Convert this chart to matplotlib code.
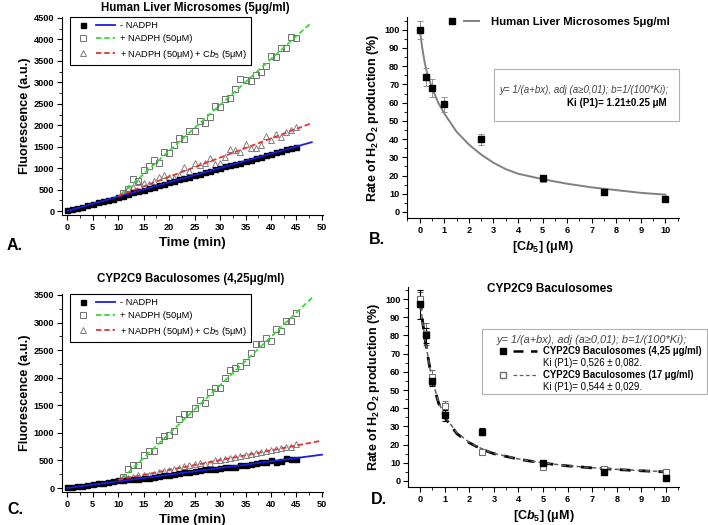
import matplotlib
matplotlib.use('Agg')
import matplotlib.pyplot as plt
from matplotlib.lines import Line2D
from matplotlib.patches import Rectangle
from matplotlib.legend_handler import HandlerTuple
from matplotlib.ticker import MultipleLocator

plt.rcParams['font.family'] = ['Liberation Sans', 'DejaVu Sans']
plt.rcParams['mathtext.fontset'] = 'custom'
plt.rcParams['mathtext.rm'] = 'Liberation Sans'
plt.rcParams['mathtext.it'] = 'Liberation Sans:italic'
plt.rcParams['mathtext.bf'] = 'Liberation Sans:bold'
plt.rcParams['mathtext.bfit'] = 'Liberation Sans:italic:bold'

# ---- panel A: Human liver microsomes, fluorescence vs time
minutes = list(range(46))
late_minutes = list(range(11, 46))
a_minus_nadph = [30, 50, 70, 100, 130, 160, 200, 230, 260, 290, 330, 360, 400, 440, 470, 500,
                 530, 570, 600, 640, 670, 700, 740, 770, 800, 830, 870, 900, 930, 970, 1000,
                 1040, 1070, 1100, 1130, 1170, 1200, 1230, 1270, 1300, 1340, 1370, 1400, 1440,
                 1470, 1500]
a_nadph = [420, 520, 750, 710, 950, 1050, 1180, 1120, 1380, 1350, 1550, 1700, 1680, 1870,
           1860, 2100, 2050, 2200, 2440, 2420, 2620, 2640, 2850, 3080, 3050, 3040, 3180, 3240,
           3380, 3620, 3600, 3800, 3810, 4050, 4030]
a_nadph_cb5 = [430, 540, 560, 680, 650, 620, 700, 800, 840, 800, 780, 850, 1030, 940, 1120,
               1080, 1130, 1240, 1100, 1110, 1270, 1450, 1420, 1380, 1570, 1480, 1480, 1530,
               1740, 1650, 1800, 1720, 1850, 1900, 1970]
a_fit_minus_x, a_fit_minus_y = [0, 48], [0, 1605]
a_fit_nadph_x, a_fit_nadph_y = [10.5, 48], [380, 4400]
a_fit_cb5_x, a_fit_cb5_y = [10, 48], [350, 2050]

# ---- panel C: CYP2C9 baculosomes, fluorescence vs time
c_minus_nadph = [10, 20, 30, 40, 55, 70, 90, 100, 115, 125, 140, 150, 155, 160, 170, 180, 190,
                 200, 220, 230, 240, 260, 270, 290, 290, 300, 330, 340, 350, 350, 360, 380, 390,
                 390, 420, 420, 430, 450, 480, 480, 500, 480, 490, 540, 530, 530]
c_nadph = [200, 340, 420, 420, 600, 680, 680, 870, 950, 960, 1040, 1260, 1340, 1340, 1460,
           1600, 1540, 1740, 1820, 1810, 2000, 2140, 2170, 2210, 2280, 2450, 2620, 2620, 2720,
           2660, 2880, 2840, 3020, 3030, 3170]
c_nadph_cb5 = [200, 190, 200, 230, 230, 240, 260, 290, 310, 330, 340, 370, 400, 410, 430, 460,
               440, 450, 500, 510, 520, 540, 560, 580, 600, 610, 640, 650, 680, 690, 700, 720,
               740, 750, 790]
c_fit_minus_x, c_fit_minus_y = [0, 50], [0, 605]
c_fit_nadph_x, c_fit_nadph_y = [10.7, 48.4], [165, 3480]
c_fit_cb5_x, c_fit_cb5_y = [10, 50], [150, 860]

# ---- panels B and D: rate vs [Cb5]
cb5 = [0, 0.25, 0.5, 1, 2.5, 5, 7.5, 10]
b_rate = [100, 74, 68, 59, 40, 18.5, 11, 7]
b_err = [5, 5, 5, 4, 3, 2, 1, 1]
b_fit_x = [0, 0.1, 0.2, 0.3, 0.5, 0.75, 1, 1.5, 2, 2.5, 3, 3.5, 4, 5, 6, 7, 8, 9, 10]
b_fit_y = [100, 90, 82, 76, 68, 60, 54, 44, 37, 31.5, 27, 23.5, 21, 18, 15.5, 13.5, 12, 10.5, 9.5]

d_rate_425 = [97, 80, 55, 36, 27, 10, 5, 1.5]
d_err_425 = [8, 4, 3, 3, 2, 1, 1, 1]
d_rate_17 = [100, 81, 57, 41, 16, 7.5, 6.5, 5]
d_err_17 = [4, 6, 4, 3, 1, 1, 1, 1]
d_fit_x = [0, 0.1, 0.2, 0.25, 0.3, 0.4, 0.5, 0.75, 1, 1.5, 2, 2.5, 3, 4, 5, 6, 7, 8, 9, 10]
d_fit_425 = [100, 88, 78, 74, 70, 62, 55, 43, 35, 26, 21, 17.5, 15, 12, 9.8, 8.3, 7.2, 6.3, 5.6, 5.0]
d_fit_17 = [100, 88, 78, 74, 70, 62, 55.5, 43.5, 35.5, 26.5, 21.3, 17.8, 15.2, 12.1, 9.9, 8.4, 7.3, 6.4, 5.7, 5.1]

W, H = 708, 525
fig = plt.figure(figsize=(W / 100, H / 100), dpi=100)


def px_axes(l, t, r, b):
    return fig.add_axes([l / W, 1 - b / H, (r - l) / W, (b - t) / H])


def ftext(x, y, s, **kw):
    fig.text(x / W, 1 - y / H, s, **kw)


def style(ax):
    for s in ('top', 'right'):
        ax.spines[s].set_visible(False)
    ax.tick_params(which='major', direction='out', length=3.5, width=0.8, labelsize=6.6, pad=2)
    ax.tick_params(which='minor', direction='out', length=2, width=0.6)
    for lab in ax.get_xticklabels() + ax.get_yticklabels():
        lab.set_fontweight('bold')


blue, green, red = '#1c1ce6', '#33dd33', '#e53333'
msq = dict(marker='s', ms=3.6, ls='none')
nadph_label = '+ NADPH (50μM)'
cb5_label = '+ NADPH (50μM) + C$\\mathit{b}_5$ (5μM)'


def kinetics(ax, black, nadph, cb5v, fits, ymax, ystep, yminor):
    (fmx, fmy), (fnx, fny), (fcx, fcy) = fits
    ax.plot(late_minutes, cb5v, marker='^', ms=5, mfc='none', mec='#808080', mew=0.7, ls='none')
    ax.plot(late_minutes, nadph, marker='s', ms=5, mfc='none', mec='#707070', mew=0.7, ls='none')
    ax.plot(minutes, black, color='black', **msq)
    l1, = ax.plot(fmx, fmy, color=blue, lw=1.3)
    l2, = ax.plot(fnx, fny, color=green, lw=1.3, ls=(0, (3, 1.6)))
    l3, = ax.plot(fcx, fcy, color=red, lw=1.3, ls=(0, (3, 1.6)))
    ax.set_xlim(-1, 50.2)
    ax.set_ylim(-0.0205 * ymax, ymax * 1.005)
    ax.xaxis.set_major_locator(MultipleLocator(5))
    ax.xaxis.set_minor_locator(MultipleLocator(2.5))
    ax.yaxis.set_major_locator(MultipleLocator(ystep))
    ax.yaxis.set_minor_locator(MultipleLocator(yminor))
    style(ax)
    ax.set_xlabel('Time (min)', fontsize=9.5, fontweight='bold', labelpad=4)
    ax.set_ylabel('Fluorescence (a.u.)', fontsize=9.2, fontweight='bold', labelpad=2)
    h1 = Line2D([], [], color='black', **msq)
    h2 = Line2D([], [], marker='s', ms=4.5, mfc='none', mec='#707070', mew=0.7, ls='none')
    h3 = Line2D([], [], marker='^', ms=5, mfc='none', mec='#808080', mew=0.7, ls='none')
    leg = ax.legend([(h1, l1), (h2, l2), (h3, l3)], ['- NADPH', nadph_label, cb5_label],
                    handler_map={tuple: HandlerTuple(ndivide=None, pad=0.4)},
                    loc='upper left', bbox_to_anchor=(0.03, 1.0), borderaxespad=0,
                    fontsize=6.7, handlelength=4.4, handletextpad=0.5, labelspacing=0.45,
                    fancybox=False, edgecolor='black', framealpha=1, borderpad=0.45)
    leg.get_frame().set_linewidth(0.8)


axA = px_axes(62, 17, 323, 215)
kinetics(axA, a_minus_nadph, a_nadph, a_nadph_cb5,
         [(a_fit_minus_x, a_fit_minus_y), (a_fit_nadph_x, a_fit_nadph_y), (a_fit_cb5_x, a_fit_cb5_y)],
         4500, 500, 250)
ftext(195, 8, 'Human Liver Microsomes (5μg/ml)', fontsize=8.3, fontweight='bold',
      ha='center', va='center')

axC = px_axes(62, 294, 323, 492)
kinetics(axC, c_minus_nadph, c_nadph, c_nadph_cb5,
         [(c_fit_minus_x, c_fit_minus_y), (c_fit_nadph_x, c_fit_nadph_y), (c_fit_cb5_x, c_fit_cb5_y)],
         3500, 500, 250)
ftext(191, 279, 'CYP2C9 Baculosomes (4,25μg/ml)', fontsize=8.3, fontweight='bold',
      ha='center', va='center')


def rate_axes(ax):
    ax.set_xlim(-0.52, 10.55)
    ax.set_ylim(-3.3, 107)
    ax.xaxis.set_major_locator(MultipleLocator(1))
    ax.xaxis.set_minor_locator(MultipleLocator(0.5))
    ax.yaxis.set_major_locator(MultipleLocator(10))
    ax.yaxis.set_minor_locator(MultipleLocator(5))
    style(ax)
    ax.set_xlabel('[C$\\mathbfit{b}_\\mathbf{5}$] (μM)', fontsize=9, fontweight='bold', labelpad=3)
    ax.set_ylabel('Rate of H$_\\mathbf{2}$O$_\\mathbf{2}$ production (%)', fontsize=9,
                  fontweight='bold', labelpad=2)


# ---- panel B
axB = px_axes(407, 17, 679, 218)
axB.plot(b_fit_x, b_fit_y, color='#808080', lw=1.4)
axB.errorbar(cb5, b_rate, yerr=b_err, fmt='s', color='black', ms=5, ecolor='#909090',
             elinewidth=0.7, capsize=2, capthick=0.7)
rate_axes(axB)
hb1 = Line2D([], [], color='black', marker='s', ms=5, ls='none')
hb2 = Line2D([], [], color='#808080', lw=1.4)
axB.legend([(hb1, hb2)], ['Human Liver Microsomes 5μg/ml'],
           handler_map={tuple: HandlerTuple(ndivide=None, pad=0.3)},
           loc='upper right', bbox_to_anchor=(0.985, 1.025), borderaxespad=0, frameon=False,
           prop={'size': 8.2, 'weight': 'bold'}, handlelength=3.0, handletextpad=1.1)
fig.patches.append(Rectangle((494 / W, 1 - 121 / H), 185 / W, 52 / H, transform=fig.transFigure,
                             fill=False, edgecolor='#b0b0b0', lw=0.8))
ftext(669, 90, 'y= 1/(a+bx), adj (a≥0,01); b=1/(100*Ki);', fontsize=7.0, style='italic',
      color='#444444', ha='right', va='center')
ftext(667, 103, 'Ki (P1)= 1.21±0.25 μM', fontsize=7, fontweight='bold', ha='right', va='center')

# ---- panel D
axD = px_axes(408, 287, 679, 487)
axD.errorbar(cb5, d_rate_17, yerr=d_err_17, fmt='s', ms=5, mfc='white', mec='#707070', mew=0.8,
             ecolor='#707070', elinewidth=0.7, capsize=2, capthick=0.7)
axD.errorbar(cb5, d_rate_425, yerr=d_err_425, fmt='s', ms=5, color='black', ecolor='black',
             elinewidth=0.8, capsize=2, capthick=0.8)
axD.plot(d_fit_x, d_fit_425, color='black', lw=2.0, ls=(0, (4, 3)))
axD.plot(d_fit_x, d_fit_17, color='#606060', lw=1.1, ls=(0, (3, 2)))
rate_axes(axD)
axD.set_ylim(-3.3, 106.6)
axD.set_xlim(-0.49, 10.53)
ftext(550, 289, 'CYP2C9 Baculosomes', fontsize=8.5, fontweight='bold', ha='center', va='center')

fig.patches.append(Rectangle((482 / W, 1 - 394 / H), 225 / W, 65 / H, transform=fig.transFigure,
                             fill=False, edgecolor='#b0b0b0', lw=0.8))
ftext(497, 340, 'y= 1/(a+bx), adj (a≥0,01); b=1/(100*Ki);', fontsize=7.9, style='italic',
      color='#444444', va='center')
fig.lines.append(Line2D([503 / W], [1 - 351 / H], marker='s', ms=4.5, color='black',
                        transform=fig.transFigure))
fig.lines.append(Line2D([513 / W, 537 / W], [1 - 351 / H] * 2, color='black', lw=1.8,
                        ls=(0, (4, 3)), transform=fig.transFigure))
ftext(543, 351, 'CYP2C9 Baculosomes (4,25 μg/ml)', fontsize=6.9, fontweight='bold', va='center')
ftext(543, 363, 'Ki (P1)= 0,526 ± 0,082.', fontsize=6.9, va='center')
fig.lines.append(Line2D([503 / W], [1 - 375 / H], marker='s', ms=4.5, mfc='white', mec='#707070',
                        transform=fig.transFigure))
fig.lines.append(Line2D([513 / W, 537 / W], [1 - 375 / H] * 2, color='#606060', lw=0.9,
                        ls=(0, (3, 2)), transform=fig.transFigure))
ftext(543, 375, 'CYP2C9 Baculosomes (17 μg/ml)', fontsize=6.9, fontweight='bold', va='center')
ftext(543, 387, 'Ki (P1)= 0,544 ± 0,029.', fontsize=6.9, va='center')

# panel letters
for s, x, y in [('A.', 7, 245), ('B.', 369, 240), ('C.', 7, 510), ('D.', 371, 500)]:
    ftext(x, y, s, fontsize=11.5, fontweight='bold', va='center')

fig.savefig('out.png', dpi=100)
